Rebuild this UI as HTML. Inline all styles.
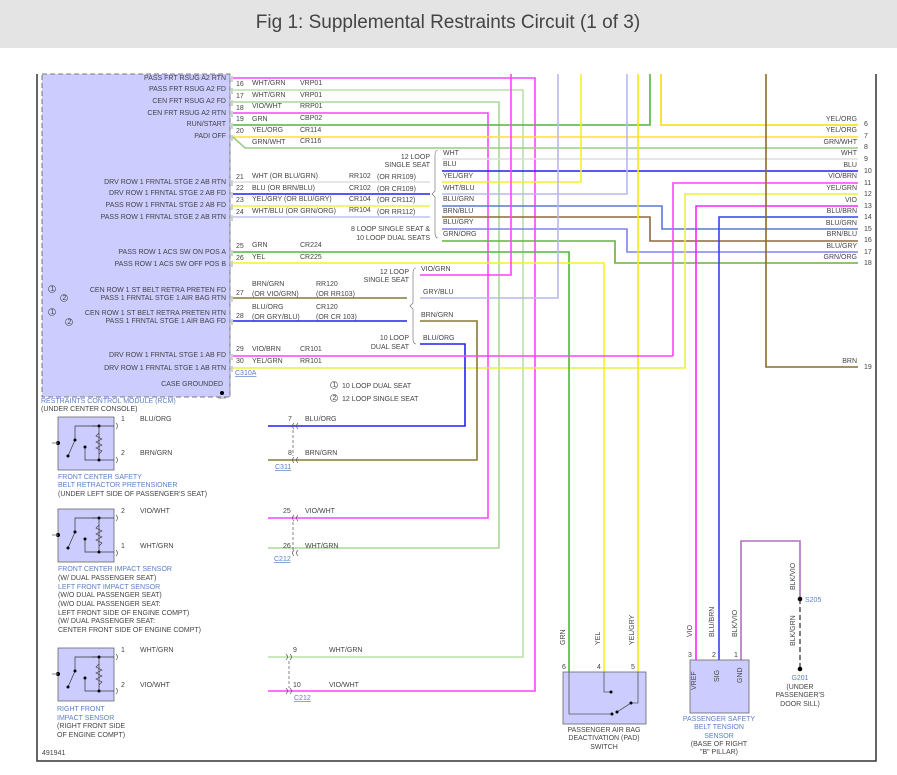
<!DOCTYPE html>
<html><head><meta charset="utf-8"><style>
html,body{margin:0;padding:0;background:#fff;}
svg{display:block;font-family:"Liberation Sans",sans-serif;}
text{font-size:7px;fill:#444;}
.b{fill:#5b7fc7;}
</style></head><body>
<svg width="897" height="775" viewBox="0 0 897 775" xmlns="http://www.w3.org/2000/svg">
<rect x="0" y="0" width="897" height="48" fill="#e4e4e4"/>
<text x="448" y="28" text-anchor="middle" style="font-size:19px;fill:#444">Fig 1: Supplemental Restraints Circuit (1 of 3)</text>
<!-- frame -->
<polyline points="37,74 37,761 876,761 876,74" fill="none" stroke="#333" stroke-width="1.5"/>
<!-- RCM -->
<rect x="42" y="74" width="188" height="323" fill="#ccccff" stroke="#555" stroke-dasharray="5,3" stroke-width="0.8"/>
<line x1="230" y1="74" x2="230" y2="397" stroke="#888" stroke-dasharray="6,2" stroke-width="0.8"/>
<g text-anchor="end">
<text x="226" y="80">PASS FRT RSUG A2 RTN</text>
<text x="226" y="91">PASS FRT RSUG A2 FD</text>
<text x="226" y="103">CEN FRT RSUG A2 FD</text>
<text x="226" y="115">CEN FRT RSUG A2 RTN</text>
<text x="226" y="126">RUN/START</text>
<text x="226" y="138">PADI OFF</text>
<text x="226" y="184">DRV ROW 1 FRNTAL STGE 2 AB RTN</text>
<text x="226" y="195">DRV ROW 1 FRNTAL STGE 2 AB FD</text>
<text x="226" y="207">PASS ROW 1 FRNTAL STGE 2 AB FD</text>
<text x="226" y="219">PASS ROW 1 FRNTAL STGE 2 AB RTN</text>
<text x="226" y="254">PASS ROW 1 ACS SW ON POS A</text>
<text x="226" y="266">PASS ROW 1 ACS SW OFF POS B</text>
<text x="226" y="292">CEN ROW 1 ST BELT RETRA PRETEN FD</text>
<text x="226" y="300">PASS 1 FRNTAL STGE 1 AIR BAG RTN</text>
<text x="226" y="315">CEN ROW 1 ST BELT RETRA PRETEN RTN</text>
<text x="226" y="323">PASS 1 FRNTAL STGE 1 AIR BAG FD</text>
<text x="226" y="357">DRV ROW 1 FRNTAL STGE 1 AB FD</text>
<text x="226" y="370">DRV ROW 1 FRNTAL STGE 1 AB RTN</text>
<text x="223" y="386">CASE GROUNDED</text>
</g>
<g fill="none" stroke="#444" stroke-width="0.6">
<circle cx="52" cy="289" r="3.5"/><circle cx="64" cy="298" r="3.5"/><circle cx="52" cy="312" r="3.5"/><circle cx="69" cy="322" r="3.5"/>
<circle cx="334" cy="385" r="3.5"/><circle cx="334" cy="398" r="3.5"/>
</g>
<g style="font-size:5px"><text x="50.5" y="291">1</text><text x="62.5" y="300">2</text><text x="50.5" y="314">1</text><text x="67.5" y="324">2</text><text x="332.5" y="387">1</text><text x="332.5" y="400">2</text></g>
<text x="342" y="388">10 LOOP DUAL SEAT</text>
<text x="342" y="401">12 LOOP SINGLE SEAT</text>
<circle cx="222" cy="393" r="2" fill="#000"/><line x1="218" y1="398" x2="226" y2="398" stroke="#555" stroke-width="0.6"/>
<text x="41" y="403" class="b">RESTRAINTS CONTROL MODULE (RCM)</text>
<text x="41" y="411">(UNDER CENTER CONSOLE)</text>

<!-- wires -->
<g fill="none" stroke-width="1.6">
<polyline stroke="#ff44ff" points="233,78 535,78 535,691 268,691"/>
<polyline stroke="#b9e0a8" points="233,90 523,90 523,657 268,657"/>
<polyline stroke="#a8d898" points="233,102 499,102 499,548 268,548"/>
<polyline stroke="#ff44ff" points="233,113 488,113 488,518 268,518"/>
<polyline stroke="#4cb838" points="233,125 650,125 650,74"/>
<polyline stroke="#f2e000" points="661,74 661,125 858,125"/>
<polyline stroke="#ffe030" points="233,137 858,137"/>
<polyline stroke="#98cc88" points="233,137 245,148 858,148"/>
<line stroke="#ddd" x1="233" y1="182" x2="430" y2="182"/>
<line stroke="#2222ee" x1="233" y1="194" x2="430" y2="194"/>
<line stroke="#f2f040" x1="233" y1="206" x2="430" y2="206"/>
<line stroke="#c0c0f0" x1="233" y1="217" x2="430" y2="217"/>
<line stroke="#ddd" x1="442" y1="159" x2="858" y2="159"/>
<line stroke="#2222ee" x1="442" y1="171" x2="858" y2="171"/>
<polyline stroke="#f4f020" points="442,182 581,182 581,74"/>
<polyline stroke="#b8b8f0" points="442,194 627,194 627,74"/>
<polyline stroke="#5a7ad0" points="442,206 662,206 662,229 858,229"/>
<polyline stroke="#8a6a40" points="442,217 650,217 650,241 858,241"/>
<polyline stroke="#8080f0" points="442,229 627,229 627,252 858,252"/>
<polyline stroke="#66b040" points="442,241 615,241 615,263 858,263"/>
<polyline stroke="#ff44ff" points="673,356 673,183 858,183"/>
<polyline stroke="#e8f040" points="233,368 685,368 685,194 858,194"/>
<polyline stroke="#ff22ff" points="696,660 696,206 858,206"/>
<polyline stroke="#3344ee" points="719,660 719,217 858,217"/>
<polyline stroke="#8a6a2a" points="766,74 766,367 858,367"/>
<polyline stroke="#4cb838" points="233,252 569,252 569,672"/>
<polyline stroke="#f8f020" points="233,263 604,263 604,672"/>
<line stroke="#f2ec00" x1="638" y1="74" x2="638" y2="672"/>
<polyline stroke="#ff44ff" points="511,74 511,275 420,275"/>
<polyline stroke="#b8b8e8" points="558,74 558,298 420,298"/>
<line stroke="#8a7a30" x1="233" y1="298" x2="407" y2="298"/>
<line stroke="#2222ee" x1="233" y1="321" x2="407" y2="321"/>
<polyline stroke="#8a7a30" points="420,321 477,321 477,460 268,460"/>
<polyline stroke="#2222ee" points="420,344 465,344 465,426 268,426"/>
<polyline stroke="#ff44ff" points="233,356 673,356"/>
<polyline stroke="#b070c0" points="741,660 741,541 800,541 800,599"/>
<line x1="511" y1="74" x2="535" y2="74" stroke="none"/>
</g>
<line x1="800" y1="599" x2="800" y2="669" stroke="#444" stroke-width="1.4" stroke-dasharray="5,3"/>
<circle cx="800" cy="599" r="2.3" fill="#000"/><circle cx="800" cy="669" r="2.3" fill="#000"/>
<text x="805" y="602" class="b">S205</text>
<text x="800" y="680" text-anchor="middle" class="b">G201</text>
<text x="800" y="689" text-anchor="middle">(UNDER</text>
<text x="800" y="697" text-anchor="middle">PASSENGER'S</text>
<text x="800" y="706" text-anchor="middle">DOOR SILL)</text>
<text transform="translate(795,590) rotate(-90)">BLK/VIO</text>
<text transform="translate(795,646) rotate(-90)">BLK/GRN</text>

<!-- RCM pin numbers & labels -->
<g>
<text x="236" y="86">16</text><text x="252" y="85">WHT/GRN</text><text x="300" y="85">VRP01</text>
<text x="236" y="98">17</text><text x="252" y="97">WHT/GRN</text><text x="300" y="97">VRP01</text>
<text x="236" y="110">18</text><text x="252" y="108">VIO/WHT</text><text x="300" y="108">RRP01</text>
<text x="236" y="121">19</text><text x="252" y="121">GRN</text><text x="300" y="120">CBP02</text>
<text x="236" y="133">20</text><text x="252" y="132">YEL/ORG</text><text x="300" y="132">CR114</text>
<text x="252" y="144">GRN/WHT</text><text x="300" y="143">CR116</text>
<text x="236" y="179">21</text><text x="252" y="178">WHT <tspan>(OR BLU/GRN)</tspan></text><text x="349" y="178">RR102</text><text x="377" y="179">(OR RR109)</text>
<text x="236" y="190">22</text><text x="252" y="190">BLU  (OR BRN/BLU)</text><text x="349" y="190">CR102</text><text x="377" y="191">(OR CR109)</text>
<text x="236" y="202">23</text><text x="252" y="201">YEL/GRY  (OR BLU/GRY)</text><text x="349" y="201">CR104</text><text x="377" y="202">(OR CR112)</text>
<text x="236" y="214">24</text><text x="252" y="213">WHT/BLU  (OR GRN/ORG)</text><text x="349" y="212">RR104</text><text x="377" y="214">(OR RR112)</text>
<text x="236" y="248">25</text><text x="252" y="247">GRN</text><text x="300" y="247">CR224</text>
<text x="236" y="260">26</text><text x="252" y="259">YEL</text><text x="300" y="259">CR225</text>
<text x="252" y="286">BRN/GRN</text><text x="316" y="286">RR120</text>
<text x="236" y="295">27</text><text x="252" y="296">(OR VIO/GRN)</text><text x="316" y="296">(OR RR103)</text>
<text x="252" y="309">BLU/ORG</text><text x="316" y="309">CR120</text>
<text x="236" y="318">28</text><text x="252" y="319">(OR GRY/BLU)</text><text x="316" y="319">(OR CR 103)</text>
<text x="236" y="351">29</text><text x="252" y="351">VIO/BRN</text><text x="300" y="351">CR101</text>
<text x="236" y="363">30</text><text x="252" y="363">YEL/GRN</text><text x="300" y="363">RR101</text>
<text x="235" y="375" class="b" text-decoration="underline">C310A</text>
</g>
<g stroke="#666" fill="none" stroke-width="0.6">
<path d="M232,76 v6 M232,88 v6 M232,100 v6 M232,111 v6 M232,123 v6 M232,135 v6 M232,180 v6 M232,192 v6 M232,204 v6 M232,215 v6 M232,250 v6 M232,261 v6 M232,296 v6 M232,319 v6 M232,354 v6 M232,366 v6"/>
<path d="M438,150 q-3,0 -3,5 v36 l-3,3 l3,3 v36 q0,5 3,5"/>
<path d="M416,268 q-3,0 -3,5 v30 l-3,3 l3,3 v30 q0,5 3,5"/>
</g>
<g text-anchor="end">
<text x="430" y="159">12 LOOP</text><text x="430" y="167">SINGLE SEAT</text>
<text x="430" y="231">8 LOOP SINGLE SEAT &amp;</text><text x="430" y="240">10 LOOP DUAL SEATS</text>
<text x="409" y="274">12 LOOP</text><text x="409" y="282">SINGLE SEAT</text>
<text x="409" y="340">10 LOOP</text><text x="409" y="349">DUAL SEAT</text>
</g>
<text x="443" y="155">WHT</text><text x="443" y="166">BLU</text><text x="443" y="178">YEL/GRY</text><text x="443" y="190">WHT/BLU</text>
<text x="443" y="201">BLU/GRN</text><text x="443" y="213">BRN/BLU</text><text x="443" y="224">BLU/GRY</text><text x="443" y="236">GRN/ORG</text>
<text x="421" y="271">VIO/GRN</text><text x="423" y="294">GRY/BLU</text><text x="421" y="317">BRN/GRN</text><text x="423" y="340">BLU/ORG</text>
<g text-anchor="end">
<text x="857" y="121">YEL/ORG</text><text x="857" y="132">YEL/ORG</text><text x="857" y="144">GRN/WHT</text><text x="857" y="155">WHT</text>
<text x="857" y="167">BLU</text><text x="857" y="178">VIO/BRN</text><text x="857" y="190">YEL/GRN</text><text x="857" y="202">VIO</text>
<text x="857" y="213">BLU/BRN</text><text x="857" y="225">BLU/GRN</text><text x="857" y="236">BRN/BLU</text><text x="857" y="248">BLU/GRY</text>
<text x="857" y="259">GRN/ORG</text><text x="857" y="363">BRN</text>
</g>
<g>
<text x="864" y="126">6</text><text x="864" y="138">7</text><text x="864" y="149">8</text><text x="864" y="161">9</text>
<text x="864" y="173">10</text><text x="864" y="185">11</text><text x="864" y="196">12</text><text x="864" y="208">13</text>
<text x="864" y="219">14</text><text x="864" y="231">15</text><text x="864" y="242">16</text><text x="864" y="254">17</text>
<text x="864" y="265">18</text><text x="864" y="369">19</text>
</g>

<!-- left sensors -->
<g id="s1">
<rect x="58" y="417" width="56" height="53" fill="#ccccff" stroke="#666" stroke-width="0.8"/>
<polyline points="114,426 75,426 75,440" fill="none" stroke="#333" stroke-width="0.7"/>
<line x1="75" y1="440" x2="68" y2="456" stroke="#333" stroke-width="0.7"/>
<polyline points="92,426 99,426 99,460 85,460 85,447 M" fill="none" stroke="#333" stroke-width="0.7"/>
<polyline points="99,460 114,460" fill="none" stroke="#333" stroke-width="0.7"/>
<polyline points="99,433 96,436 102,439 96,442 102,445 96,448 102,451 99,454" fill="none" stroke="#333" stroke-width="0.6"/>
<circle cx="75" cy="440" r="1.5"/><circle cx="68" cy="456" r="1.5"/><circle cx="99" cy="426" r="1.5"/><circle cx="99" cy="460" r="1.5"/><circle cx="85" cy="447" r="1.5"/>
<circle cx="58" cy="443" r="2"/><line x1="52" y1="443" x2="58" y2="443" stroke="#888"/>
</g>
<use href="#s1" transform="translate(0,92)"/>
<use href="#s1" transform="translate(0,231)"/>
<g fill="none" stroke="#555" stroke-width="0.7">
<path d="M116,423 q3,3 0,6 M116,457 q3,3 0,6 M116,515 q3,3 0,6 M116,550 q3,3 0,6 M116,654 q3,3 0,6 M116,688 q3,3 0,6"/>
<path d="M294,423 q-3,3 0,6 M298,423 q-3,3 0,6 M294,457 q-3,3 0,6 M298,457 q-3,3 0,6 M294,515 q-3,3 0,6 M298,515 q-3,3 0,6 M294,550 q-3,3 0,6 M298,550 q-3,3 0,6"/>
<path d="M286,654 q3,3 0,6 M290,654 q3,3 0,6 M286,688 q3,3 0,6 M290,688 q3,3 0,6"/>
<path d="M293,430 v26 M293,522 v28 M289,661 v27" stroke-dasharray="3,2"/>
</g>
<text x="121" y="421">1</text><text x="140" y="421">BLU/ORG</text><text x="288" y="421">7</text><text x="305" y="421">BLU/ORG</text>
<text x="121" y="455">2</text><text x="140" y="455">BRN/GRN</text><text x="288" y="455">8</text><text x="305" y="455">BRN/GRN</text>
<text x="275" y="469" class="b" text-decoration="underline">C311</text>
<text x="58" y="479" class="b">FRONT CENTER SAFETY</text>
<text x="58" y="487" class="b">BELT RETRACTOR PRETENSIONER</text>
<text x="58" y="496">(UNDER LEFT SIDE OF PASSENGER'S SEAT)</text>
<text x="121" y="513">2</text><text x="140" y="513">VIO/WHT</text><text x="283" y="513">25</text><text x="305" y="513">VIO/WHT</text>
<text x="121" y="548">1</text><text x="140" y="548">WHT/GRN</text><text x="283" y="548">26</text><text x="305" y="548">WHT/GRN</text>
<text x="274" y="561" class="b" text-decoration="underline">C212</text>
<text x="58" y="571" class="b">FRONT CENTER IMPACT SENSOR</text>
<text x="58" y="580">(W/ DUAL PASSENGER SEAT)</text>
<text x="58" y="589" class="b">LEFT FRONT IMPACT SENSOR</text>
<text x="58" y="597">(W/O DUAL PASSENGER SEAT)</text>
<text x="58" y="606">(W/O DUAL PASSENGER SEAT:</text>
<text x="58" y="615">LEFT FRONT SIDE OF ENGINE COMPT)</text>
<text x="58" y="623">(W/ DUAL PASSENGER SEAT:</text>
<text x="58" y="632">CENTER FRONT SIDE OF ENGINE COMPT)</text>
<text x="121" y="652">1</text><text x="140" y="652">WHT/GRN</text><text x="293" y="652">9</text><text x="329" y="652">WHT/GRN</text>
<text x="121" y="687">2</text><text x="140" y="687">VIO/WHT</text><text x="293" y="687">10</text><text x="329" y="687">VIO/WHT</text>
<text x="294" y="700" class="b" text-decoration="underline">C212</text>
<text x="57" y="711" class="b">RIGHT FRONT</text>
<text x="57" y="720" class="b">IMPACT SENSOR</text>
<text x="57" y="728">(RIGHT FRONT SIDE</text>
<text x="57" y="737">OF ENGINE COMPT)</text>
<text x="42" y="755">491941</text>

<!-- PAD switch -->
<rect x="563" y="672" width="83" height="52" fill="#ccccff" stroke="#666" stroke-width="0.8"/>
<g fill="none" stroke="#555" stroke-width="0.8">
<polyline points="569,672 569,714 612,714"/><polyline points="604,672 604,692 611,692"/><polyline points="638,672 638,703 631,703"/>
<line x1="617" y1="712" x2="631" y2="703"/>
</g>
<circle cx="611" cy="692" r="1.5"/><circle cx="612" cy="714" r="1.5"/><circle cx="617" cy="712" r="1.5"/><circle cx="631" cy="703" r="1.5"/>
<text x="562" y="669">6</text><text x="597" y="669">4</text><text x="631" y="669">5</text>
<text transform="translate(565,645) rotate(-90)">GRN</text>
<text transform="translate(600,645) rotate(-90)">YEL</text>
<text transform="translate(634,645) rotate(-90)">YEL/GRY</text>
<text x="604" y="732" text-anchor="middle">PASSENGER AIR BAG</text>
<text x="604" y="740" text-anchor="middle">DEACTIVATION (PAD)</text>
<text x="604" y="749" text-anchor="middle">SWITCH</text>
<!-- belt sensor -->
<rect x="690" y="660" width="59" height="53" fill="#ccccff" stroke="#666" stroke-width="0.8"/>
<text transform="translate(696,690) rotate(-90)">VREF</text>
<text transform="translate(719,682) rotate(-90)">SIG</text>
<text transform="translate(742,683) rotate(-90)">GND</text>
<text x="688" y="657">3</text><text x="712" y="657">2</text><text x="734" y="657">1</text>
<text transform="translate(692,637) rotate(-90)">VIO</text>
<text transform="translate(714,637) rotate(-90)">BLU/BRN</text>
<text transform="translate(737,637) rotate(-90)">BLK/VIO</text>
<text x="719" y="721" text-anchor="middle" class="b">PASSENGER SAFETY</text>
<text x="719" y="729" text-anchor="middle" class="b">BELT TENSION</text>
<text x="719" y="738" text-anchor="middle" class="b">SENSOR</text>
<text x="719" y="746" text-anchor="middle">(BASE OF RIGHT</text>
<text x="719" y="754" text-anchor="middle">"B" PILLAR)</text>
</svg>
</body></html>
